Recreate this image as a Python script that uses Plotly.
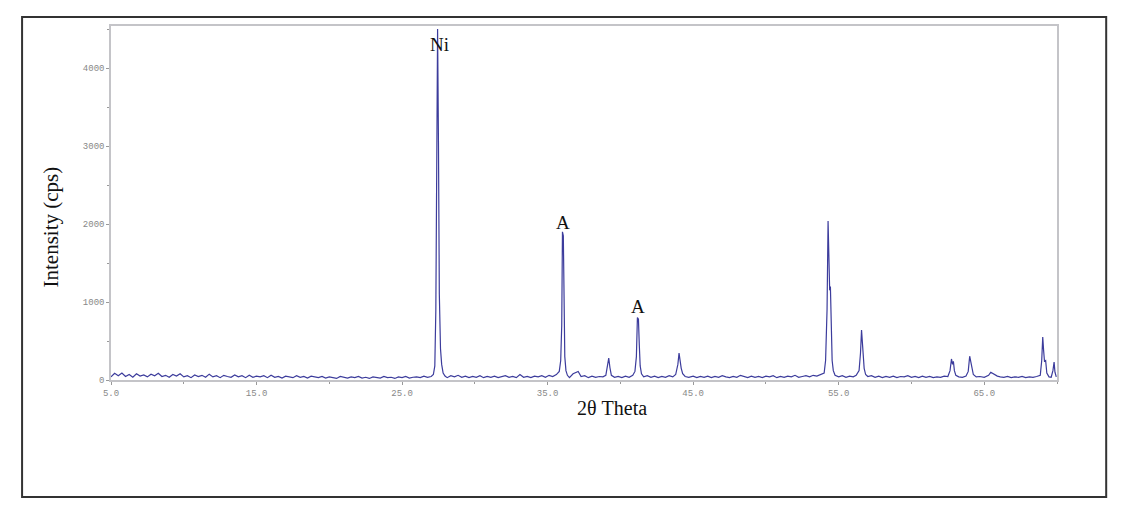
import plotly.graph_objects as go

# XRD pattern (2-theta in degrees, intensity in cps)
two_theta = [
    5.00, 5.25, 5.50, 5.75, 6.00, 6.25, 6.50, 6.75, 7.00, 7.25, 7.50, 7.75,
    8.00, 8.25, 8.50, 8.75, 9.00, 9.25, 9.50, 9.75, 10.00, 10.25, 10.50, 10.75,
    11.00, 11.25, 11.50, 11.75, 12.00, 12.25, 12.50, 12.75, 13.00, 13.25, 13.50, 13.75,
    14.00, 14.25, 14.50, 14.75, 15.00, 15.25, 15.50, 15.75, 16.00, 16.25, 16.50, 16.75,
    17.00, 17.25, 17.50, 17.75, 18.00, 18.25, 18.50, 18.75, 19.00, 19.25, 19.50, 19.75,
    20.00, 20.25, 20.50, 20.75, 21.00, 21.25, 21.50, 21.75, 22.00, 22.25, 22.50, 22.75,
    23.00, 23.25, 23.50, 23.75, 24.00, 24.25, 24.50, 24.75, 25.00, 25.25, 25.50, 25.75,
    26.00, 26.25, 26.50, 26.75, 27.00,
    27.15, 27.25, 27.32, 27.38, 27.44, 27.50, 27.56, 27.64, 27.72, 27.82, 27.95,
    28.10, 28.35, 28.60, 28.85, 29.10, 29.35, 29.60, 29.85, 30.10, 30.35, 30.60, 30.85,
    31.10, 31.35, 31.60, 31.85, 32.10, 32.35, 32.60, 32.85, 33.10, 33.35, 33.60, 33.85,
    34.10, 34.35, 34.60, 34.85, 35.10, 35.35, 35.60, 35.80,
    35.90, 35.97, 36.02, 36.08, 36.13, 36.18, 36.26, 36.36,
    36.50, 36.75, 37.10, 37.30, 37.55, 37.80, 38.05, 38.30, 38.55, 38.80, 39.00,
    39.10, 39.20, 39.28, 39.38, 39.60, 39.85, 40.10, 40.35, 40.60, 40.85, 41.00,
    41.10, 41.17, 41.24, 41.30, 41.36, 41.45, 41.60, 41.85, 42.10, 42.35, 42.60, 42.85,
    43.10, 43.35, 43.60, 43.80, 43.95, 44.03, 44.10, 44.18, 44.28, 44.45, 44.70,
    45.00, 45.25, 45.50, 45.75, 46.00, 46.25, 46.50, 46.75, 47.00, 47.25, 47.50, 47.75,
    48.00, 48.25, 48.50, 48.75, 49.00, 49.25, 49.50, 49.75, 50.00, 50.25, 50.50, 50.75,
    51.00, 51.25, 51.50, 51.75, 52.00, 52.25, 52.50, 52.75, 53.00, 53.25, 53.50, 53.75,
    54.00, 54.10, 54.20, 54.27, 54.33, 54.38, 54.43, 54.48, 54.55, 54.63, 54.75,
    55.00, 55.25, 55.50, 55.75, 56.00, 56.20, 56.40, 56.50, 56.57, 56.63, 56.68, 56.75,
    56.85, 57.00, 57.25, 57.50, 57.75, 58.00, 58.25, 58.50, 58.75, 59.00, 59.25, 59.50,
    59.75, 60.00, 60.25, 60.50, 60.75, 61.00, 61.25, 61.50, 61.75, 62.00, 62.25, 62.50,
    62.65, 62.75, 62.82, 62.88, 62.95, 63.05, 63.25, 63.50, 63.75, 63.90, 64.00, 64.08,
    64.15, 64.25, 64.45, 64.70, 65.00, 65.30, 65.45, 65.60, 65.75, 65.90, 66.10, 66.35,
    66.60, 66.85, 67.10, 67.35, 67.60, 67.85, 68.10, 68.35, 68.60, 68.85, 68.95, 69.02,
    69.08, 69.14, 69.22, 69.30, 69.45, 69.60, 69.72, 69.80, 69.86, 69.95,
]

intensity = [
    40, 85, 55, 90, 45, 70, 35, 80, 50, 65, 40, 75,
    55, 85, 45, 60, 35, 70, 50, 80, 40, 55, 30, 65,
    45, 60, 35, 75, 40, 55, 30, 60, 45, 35, 65, 40,
    55, 30, 60, 35, 50, 40, 55, 30, 60, 35, 45, 25,
    50, 40, 30, 55, 35, 45, 25, 50, 40, 30, 45, 25,
    40, 30, 20, 45, 35, 25, 40, 30, 45, 25, 35, 20,
    40, 30, 25, 45, 30, 35, 20, 40, 30, 45, 25, 35,
    40, 30, 50, 35, 45,
    70, 180, 900, 2600, 4500, 3050, 1100, 400, 200, 90, 50,
    30, 55, 40, 60, 35, 50, 30, 45, 35, 55, 30, 45,
    35, 50, 30, 40, 55, 35, 45, 30, 70, 35, 45, 30,
    50, 40, 55, 35, 60, 45, 70, 110,
    250, 700, 1900, 1850, 800, 300, 120, 60,
    30, 80, 110, 45, 55, 30, 50, 35, 45, 40, 60,
    150, 280, 160, 60, 35, 45, 30, 50, 35, 60, 110,
    300, 800, 780, 450, 180, 80, 40, 55, 35, 50, 30, 45,
    35, 55, 40, 70, 200, 345, 250, 150, 80, 45, 35,
    50, 30, 45, 35, 50, 30, 45, 35, 55, 40, 30, 45,
    35, 60, 40, 30, 50, 35, 45, 30, 50, 40, 55, 30,
    45, 35, 50, 40, 60, 35, 45, 55, 40, 60, 50, 65,
    90, 250, 900, 2040, 1700, 1150, 1200, 600, 250, 120, 60,
    40, 55, 35, 50, 40, 60, 120, 350, 640, 450, 300, 150,
    70, 45, 55, 35, 50, 30, 45, 35, 50, 30, 45, 40,
    55, 35, 45, 30, 50, 35, 45, 30, 40, 35, 50, 45,
    120, 270, 200, 240, 120, 60, 40, 35, 50, 110, 305, 220,
    160, 70, 40, 45, 35, 60, 100, 80, 70, 50, 40, 35,
    45, 30, 40, 35, 45, 30, 40, 35, 45, 60, 250, 550,
    380, 240, 250, 90, 40, 35, 120, 230, 100, 40,
]

x_ticks = [5, 15, 25, 35, 45, 55, 65]
y_ticks = [0, 1000, 2000, 3000, 4000]

peak_labels = ["Ni", "A", "A"]
peak_x = [27.55, 36.07, 41.22]
peak_y = [4300, 2020, 940]

fig = go.Figure()
fig.add_trace(go.Scatter(
    x=two_theta, y=intensity, mode="lines",
    line=dict(color="#3c3c9c", width=1.2),
    showlegend=False, hoverinfo="skip",
))

for txt, px, py in zip(peak_labels, peak_x, peak_y):
    fig.add_annotation(x=px, y=py, text=txt, showarrow=False,
                       font=dict(family="Liberation Serif", size=19, color="#111"))

# axis titles placed by hand, both sit off-centre in the original
fig.add_annotation(x=0.53, y=-0.042, xref="paper", yref="paper",
                   xanchor="center", yanchor="top", showarrow=False,
                   text="2θ Theta",
                   font=dict(family="Liberation Serif", size=20, color="#111"))
fig.add_annotation(x=-0.063, y=0.432, xref="paper", yref="paper",
                   xanchor="center", yanchor="middle", showarrow=False,
                   text="Intensity (cps)", textangle=-90,
                   font=dict(family="Liberation Serif", size=21, color="#111"))

# outer black frame around the whole figure
fig.add_shape(type="rect", xref="paper", yref="paper",
              x0=-0.094, x1=1.052, y0=-0.3305, y1=1.0254,
              line=dict(color="#333", width=2))

tickfont = dict(family="Liberation Mono", size=9, color="#888")
fig.update_xaxes(
    range=[5, 70], tickvals=x_ticks, tickformat=".1f",
    ticks="outside", ticklen=3, tickcolor="#999",
    minor=dict(dtick=5, tick0=0, ticks="outside", ticklen=2, tickcolor="#999"),
    showline=True, linecolor="#c4c4c8", linewidth=1.5, mirror=True,
    showgrid=False, zeroline=False, tickfont=tickfont,
)
fig.update_yaxes(
    range=[0, 4540], tickvals=y_ticks,
    ticks="outside", ticklen=3, tickcolor="#999",
    minor=dict(dtick=500, ticks="outside", ticklen=2, tickcolor="#999"),
    showline=True, linecolor="#c4c4c8", linewidth=1.5, mirror=True,
    showgrid=False, zeroline=False, tickfont=tickfont,
)

# page body has an 8px margin, so the figure is shrunk to fit the window
fig.update_layout(
    width=1118, height=506,
    margin=dict(l=103, r=69, t=18, b=134),
    plot_bgcolor="white", paper_bgcolor="white",
)

fig.write_html("out.html")
